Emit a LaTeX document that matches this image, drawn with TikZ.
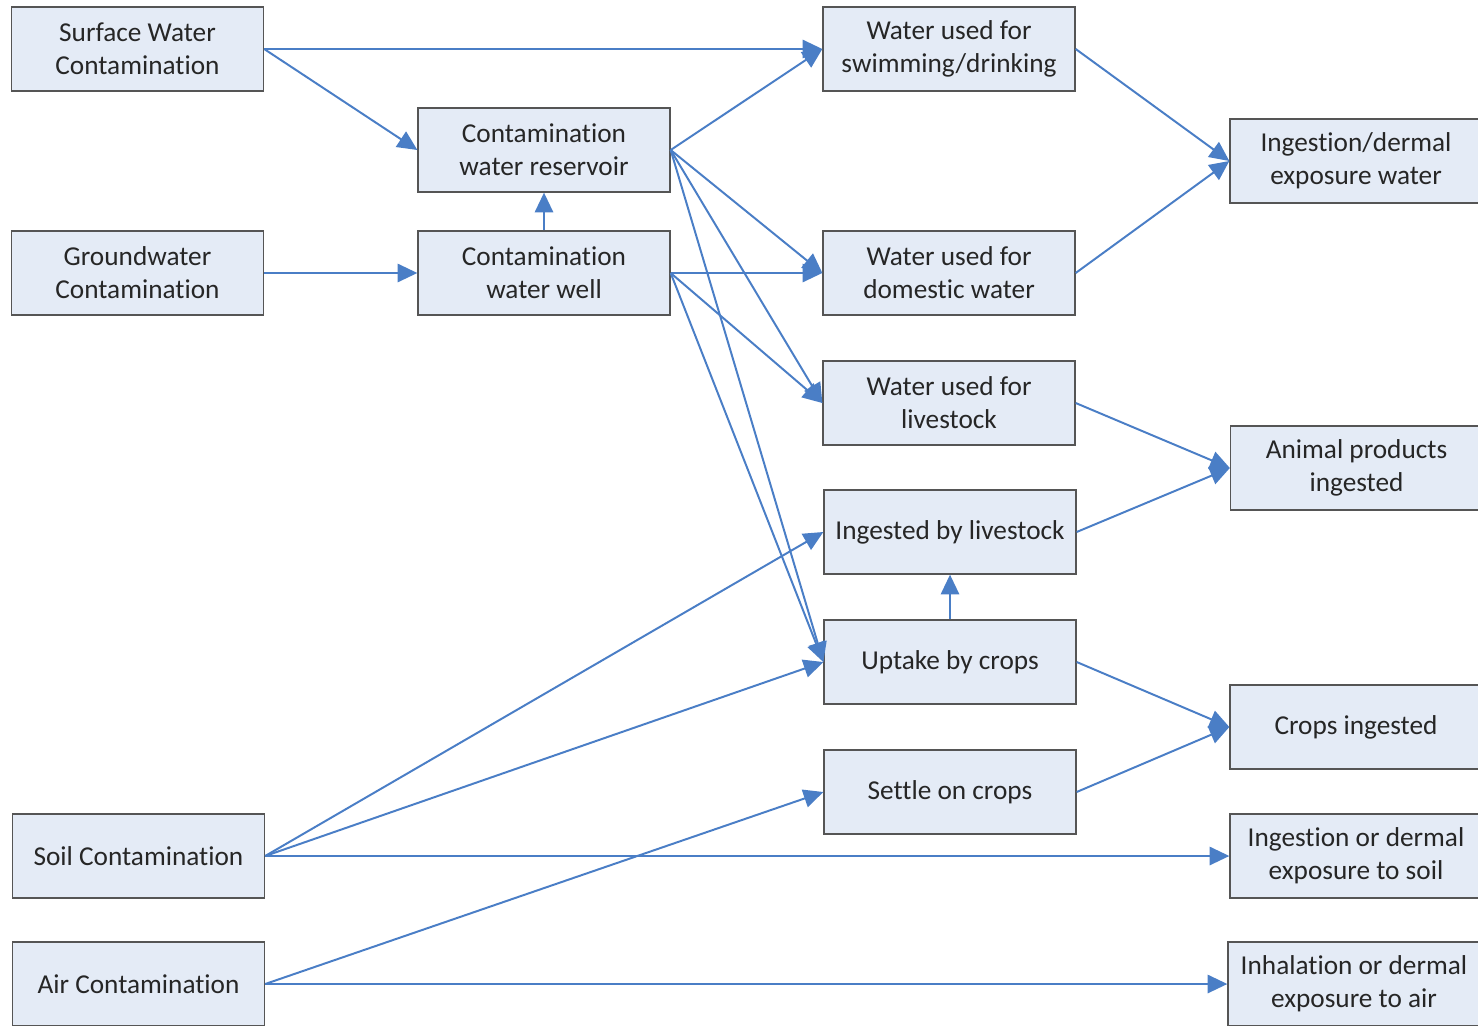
\documentclass[tikz,border=0pt]{standalone}
\usepackage{fontspec}
\setmainfont{Carlito}[RawFeature={-liga;-clig;-calt;-dlig}]
\usetikzlibrary{arrows.meta}
\definecolor{boxfill}{HTML}{E4EBF6}
\definecolor{boxline}{HTML}{555555}
\definecolor{linkblue}{HTML}{4A7EC6}
\begin{document}
\begin{tikzpicture}[x=0.025cm,y=-0.025cm,
    box/.style={draw=boxline,line width=0.9pt,fill=boxfill,minimum width=6.3cm,minimum height=2.1cm,
        align=center,text=black!85,font=\fontsize{19.4}{23.5}\selectfont},
    link/.style={draw=linkblue,line width=1.4pt,-{Triangle[length=14pt,width=13pt]}}]
    \useasboundingbox (0,0) rectangle (1478,1025);
    \clip (0,0) rectangle (1478,1025);
    % sources
    \node[box] (sw) at (137.5,49) {Surface Water\\Contamination};
    \node[box] (gw) at (137.5,273) {Groundwater\\Contamination};
    \node[box] (soil) at (138.5,856) {Soil Contamination};
    \node[box] (air) at (138.5,984) {Air Contamination};
    \node[box] (res) at (544,150) {Contamination\\water reservoir};
    \node[box] (well) at (544,273) {Contamination\\water well};
    % uses
    \node[box] (swim) at (949,49) {Water used for\\swimming/drinking};
    \node[box] (dom) at (949,273) {Water used for\\domestic water};
    \node[box] (lwat) at (949,403) {Water used for\\livestock};
    \node[box] (ingl) at (950,532) {Ingested by livestock};
    \node[box] (upt) at (950,662) {Uptake by crops};
    \node[box] (settle) at (950,792) {Settle on crops};
    % exposure
    \node[box] (idw) at (1356,161) {Ingestion/dermal\\exposure water};
    \node[box] (anim) at (1356.5,468) {Animal products\\ingested};
    \node[box] (crops) at (1356,727) {Crops ingested};
    \node[box] (isoil) at (1356,856) {Ingestion or dermal\\exposure to soil};
    \node[box] (iair) at (1354,984) {Inhalation or dermal\\exposure to air};
    \foreach \a/\b in {sw/swim,sw/res,gw/well,res/swim,res/dom,res/lwat,res/upt,well/dom,well/lwat,well/upt,
        swim/idw,dom/idw,lwat/anim,ingl/anim,upt/crops,settle/crops,soil/ingl,soil/upt,soil/isoil,air/settle,air/iair}
        \draw[link] (\a.east) -- (\b.west);
    \draw[link] (well.north) -- (res.south);
    \draw[link] (upt.north) -- (ingl.south);
\end{tikzpicture}
\end{document}
